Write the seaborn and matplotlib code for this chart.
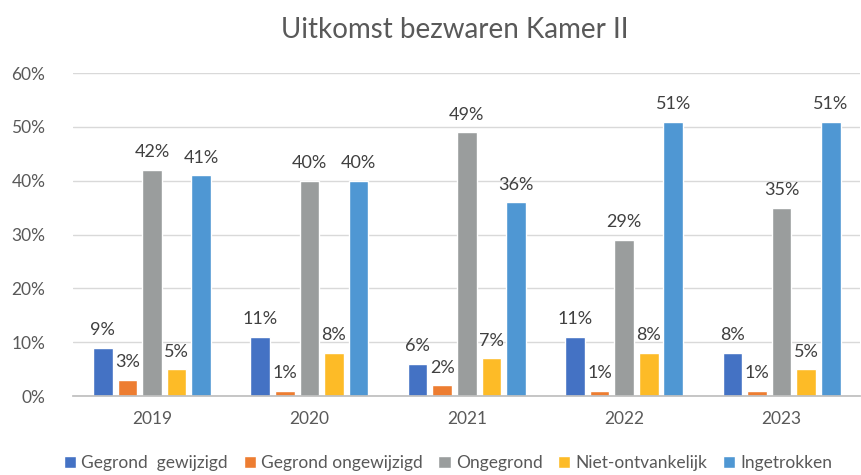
import pandas as pd
import numpy as np
import matplotlib.pyplot as plt
import seaborn as sns

# Data (percentages)
years = ['2019', '2020', '2021', '2022', '2023']
series = ['Gegrond  gewijzigd', 'Gegrond ongewijzigd', 'Ongegrond',
          'Niet-ontvankelijk', 'Ingetrokken']
gegrond_gewijzigd = [9, 11, 6, 11, 8]
gegrond_ongewijzigd = [3, 1, 2, 1, 1]
ongegrond = [42, 40, 49, 29, 35]
niet_ontvankelijk = [5, 8, 7, 8, 5]
ingetrokken = [41, 40, 36, 51, 51]

colors = ['#4472C4', '#ED7D31', '#9A9D9D', '#FDBB27', '#4F97D3']

values = [gegrond_gewijzigd, gegrond_ongewijzigd, ongegrond,
          niet_ontvankelijk, ingetrokken]
df = pd.DataFrame({
    'Jaar': np.tile(years, len(series)),
    'Uitkomst': np.repeat(series, len(years)),
    'Percentage': np.concatenate(values),
})

sns.set_theme(style='white')
plt.rcParams['font.family'] = ['Lato', 'DejaVu Sans']

fig = plt.figure(figsize=(8.62, 4.75), dpi=100)
ax = fig.add_axes([0.085, 0.166, 0.913, 0.68])

sns.barplot(data=df, x='Jaar', y='Percentage', hue='Uitkomst',
            order=years, hue_order=series, palette=colors,
            width=0.78, gap=0.2, saturation=1, ax=ax, legend=True)

for cont in ax.containers:
    ax.bar_label(cont, labels=[f'{v:.0f}%' for v in cont.datavalues],
                 padding=7, fontsize=13, color='#404040')

ax.set_ylim(0, 60)
ax.set_yticks(range(0, 61, 10))
ax.set_yticklabels([f'{t}%' for t in range(0, 61, 10)])
ax.set_xlim(-0.5, len(years) - 0.5)
ax.set_xlabel('')
ax.set_ylabel('')
ax.yaxis.grid(True, color='#D9D9D9', linewidth=1)
ax.set_axisbelow(True)
for s in ['top', 'right', 'left']:
    ax.spines[s].set_visible(False)
ax.spines['bottom'].set_color('#BFBFBF')
ax.tick_params(axis='both', length=0, labelsize=12.5, colors='#595959')
ax.tick_params(axis='x', pad=11)
ax.tick_params(axis='y', pad=20)

fig.suptitle('Uitkomst bezwaren Kamer II', x=0.527, y=0.965, fontsize=20,
             color='#595959')

handles, labels = ax.get_legend_handles_labels()
ax.legend_.remove()
fig.legend(handles, labels, loc='lower center', bbox_to_anchor=(0.52, -0.025),
           ncol=5, frameon=False, fontsize=12.5, handlelength=0.7,
           handleheight=0.7, handletextpad=0.3, columnspacing=0.9,
           labelcolor='#595959')

fig.savefig('out.png', dpi=100)
